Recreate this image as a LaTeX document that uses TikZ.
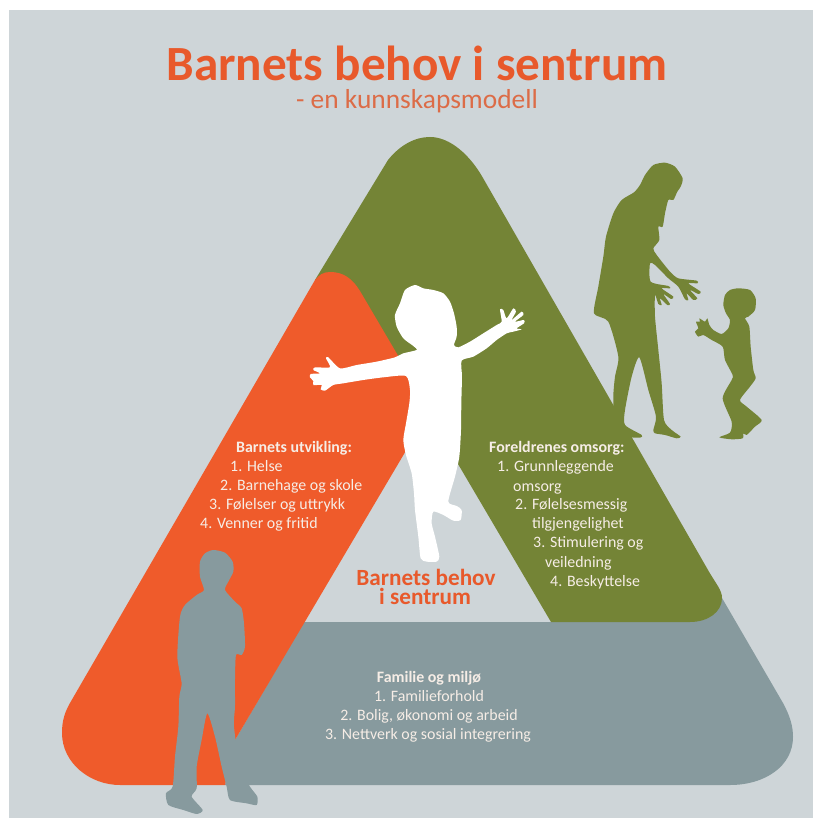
\documentclass[tikz,border=0pt]{standalone}
\usepackage{fontspec}
\setmainfont{Carlito}
\definecolor{bgc}{HTML}{CED5D8}
\definecolor{orangec}{HTML}{EF5B2B}
\definecolor{greenc}{HTML}{748436}
\definecolor{grayc}{HTML}{879A9E}
\definecolor{titlec}{HTML}{E8592B}
\definecolor{subc}{HTML}{DC6C47}
\definecolor{textc}{HTML}{F6EDE6}
\tikzset{
 lbl/.style={inner sep=0pt,anchor=base west,text=textc,font=\fontsize{15.9}{18}\selectfont},
 lblh/.style={lbl,font=\fontsize{15.9}{18}\selectfont\bfseries},
 clbl/.style={lbl,anchor=base},
 clblh/.style={lblh,anchor=base},
 sil/.style={smooth cycle,tension=0.4},
 midt/.style={inner sep=0pt,anchor=base,text=titlec,font=\fontsize{23.2}{26}\selectfont\bfseries}
}
\begin{document}
\begin{tikzpicture}[x=1pt,y=-1pt]
\useasboundingbox (0,0) rectangle (813,818);
\fill[white] (0,0) rectangle (813,818);
\fill[bgc] (9,10) rectangle (813,818);
% gray band
\fill[grayc] (235,740) -- (304,622) -- (690,622) -- (722,598) -- (783,703)
  .. controls (790,716) and (793,726) .. (793,737)
  .. controls (793,766) and (765,785) .. (730,785) -- (225,785) -- cycle;
% green
\fill[greenc] (388,160) .. controls (400,145) and (415,137) .. (430,137)
  .. controls (450,137) and (470,155) .. (483,178) -- (708,570)
  .. controls (716,584) and (722,590) .. (722,598)
  .. controls (722,612) and (708,622) .. (690,622) -- (551,622) -- (428,413) -- (315,280) -- cycle;
% orange
\fill[orangec] (315,280) .. controls (319,275) and (323,272) .. (330,272)
  .. controls (343,272) and (352,278) .. (360,291) -- (430,410) -- (235,740) -- (225,785) -- (120,785)
  .. controls (90,785) and (62,763) .. (62,733)
  .. controls (62,720) and (65,712) .. (70,703) -- cycle;
% baby
\begin{scope}[shift={(300,270)},scale=0.3333]
\fill[white] plot[sil] coordinates {(345,45)(370,55)(400,60)(430,70)(450,95)(462,130)(470,170)(470,200)(462,225)(475,232)(510,215)(550,190)(590,165)(605,155)(600,118)(610,120)(620,145)(640,115)(648,125)(635,150)(665,125)(670,135)(645,155)(672,150)(672,160)(650,175)(665,178)(640,185)(620,190)(590,210)(560,235)(520,260)(485,272)(486,320)(484,400)(483,480)(478,560)(465,620)(445,695)(470,708)(485,720)(482,750)(460,752)(430,735)(400,725)(395,760)(405,800)(418,860)(410,875)(380,875)(362,865)(355,800)(345,720)(342,670)(335,610)(318,555)(310,510)(318,460)(328,400)(330,360)(318,318)(250,322)(190,330)(130,340)(100,345)(75,362)(62,358)(65,345)(40,345)(40,333)(30,322)(32,312)(60,310)(40,300)(45,292)(90,292)(78,265)(85,262)(120,295)(170,285)(230,275)(285,262)(310,250)(350,240)(340,228)(310,205)(290,170)(285,135)(300,100)(315,60)};
\end{scope}
% mother and child
\begin{scope}[shift={(590,150)},scale=0.3333]
\fill[greenc] plot[sil] coordinates {(225,38)(255,50)(278,85)(272,110)(262,125)(250,150)(235,150)(225,190)(218,230)(205,230)(208,270)(190,295)(200,315)(240,365)(265,385)(320,392)(322,400)(295,400)(332,425)(325,432)(300,420)(322,445)(310,450)(290,430)(295,450)(285,448)(265,410)(235,385)(195,345)(180,340)(182,395)(235,408)(240,415)(215,415)(250,440)(243,447)(220,432)(240,462)(232,465)(210,445)(215,465)(205,462)(195,435)(195,500)(205,600)(215,700)(222,810)(245,840)(272,860)(260,865)(225,855)(195,850)(190,840)(198,800)(175,720)(148,622)(125,680)(105,780)(105,825)(155,855)(150,863)(110,860)(75,835)(70,740)(75,680)(85,620)(55,515)(12,490)(25,410)(40,320)(48,260)(70,190)(95,150)(132,127)(150,105)(165,75)(190,45)};
\fill[greenc] plot[sil] coordinates {(445,415)(480,420)(497,445)(495,480)(475,500)(465,505)(478,530)(482,590)(490,660)(497,685)(480,710)(450,750)(470,770)(515,810)(495,830)(470,855)(460,850)(458,865)(425,868)(388,862)(420,848)(425,815)(398,745)(425,690)(428,675)(405,630)(398,590)(365,570)(340,555)(325,560)(315,545)(325,535)(318,515)(330,515)(328,505)(345,515)(352,505)(358,525)(370,540)(395,552)(415,535)(420,510)(408,490)(400,465)(405,435)(420,420)};
\end{scope}
% boy
\begin{scope}[shift={(50,540)},scale=0.3333]
\fill[grayc] plot[sil] coordinates {(490,30)(525,38)(548,65)(550,95)(535,125)(525,150)(555,185)(575,205)(582,250)(585,320)(575,345)(558,345)(555,420)(555,500)(552,560)(570,680)(600,740)(622,770)(620,795)(590,790)(540,780)(530,740)(515,680)(495,590)(472,520)(455,600)(440,680)(440,745)(425,770)(458,810)(440,822)(400,810)(355,795)(348,760)(368,740)(375,650)(385,560)(388,470)(395,430)(382,350)(390,230)(405,195)(440,165)(462,150)(450,110)(450,65)(465,40)};
\end{scope}
% titles
\node[inner sep=0pt,anchor=base,text=titlec,font=\fontsize{49.2}{54}\selectfont\bfseries] (title) at (417,81) {Barnets behov i sentrum};
\node[inner sep=0pt,anchor=base,text=subc,font=\fontsize{27.4}{30}\selectfont] (subtitle) at (417,109) {- en kunnskapsmodell};
% left
\node[lblh] (l0) at (236,452) {Barnets utvikling:};
\node[lbl] (l1) at (230,471) {1. Helse};
\node[lbl] (l2) at (220,490) {2. Barnehage og skole};
\node[lbl] (l3) at (209,509) {3. Følelser og uttrykk};
\node[lbl] (l4) at (200,528) {4. Venner og fritid};
% right
\node[lblh] (r0) at (489,452) {Foreldrenes omsorg:};
\node[lbl] (r1) at (497,471) {1. Grunnleggende};
\node[lbl] (r2) at (513,491) {omsorg};
\node[lbl] (r3) at (515,509) {2. Følelsesmessig};
\node[lbl] (r4) at (532,528) {tilgjengelighet};
\node[lbl] (r5) at (533,547) {3. Stimulering og};
\node[lbl] (r6) at (545,567) {veiledning};
\node[lbl] (r7) at (550,586) {4. Beskyttelse};
% centre
\node[midt] (c1) at (426,585) {Barnets behov};
\node[midt] (c2) at (425,604) {i sentrum};
% bottom
\node[clblh] (b0) at (429,682) {Familie og miljø};
\node[clbl] (b1) at (429,701) {1. Familieforhold};
\node[clbl] (b2) at (429,720) {2. Bolig, økonomi og arbeid};
\node[clbl] (b3) at (428,739) {3. Nettverk og sosial integrering};
\end{tikzpicture}
\end{document}
